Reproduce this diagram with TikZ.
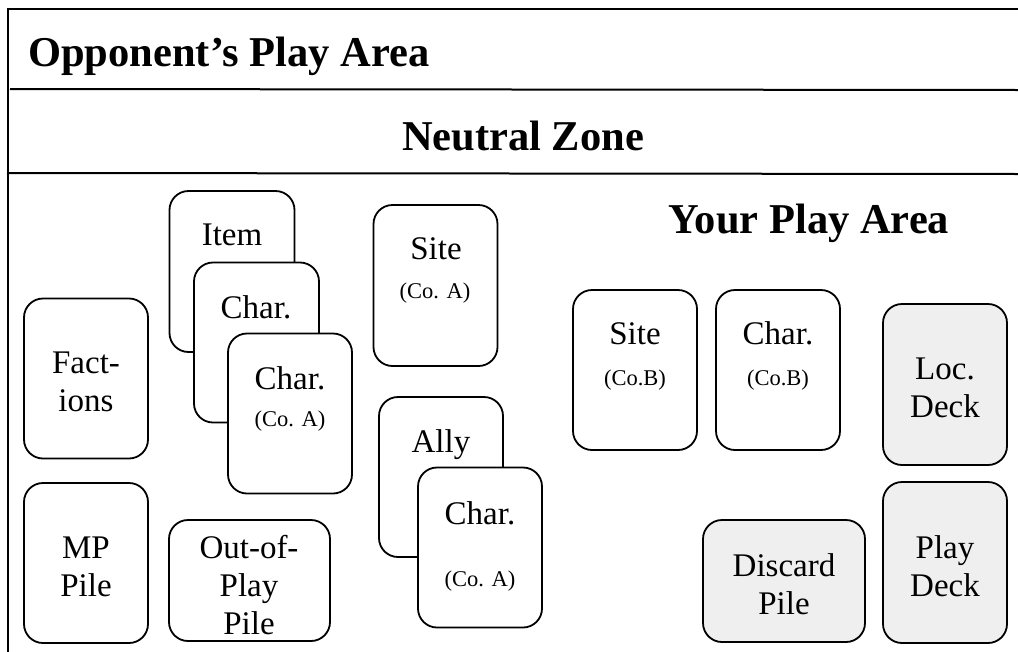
\documentclass[tikz,border=0pt]{standalone}
\usepackage{fontspec}
\setmainfont{Liberation Serif}
\definecolor{deckgray}{HTML}{EFEFEF}
\begin{document}
\begin{tikzpicture}[x=1pt,y=-1pt,
  card/.style={draw=black,line width=1.8pt,rounded corners=19pt,fill=white,inner sep=0pt,minimum width=124pt,minimum height=160pt},
  deck/.style={card,fill=deckgray},
  txt/.style={inner sep=0pt,anchor=base,align=center,font=\fontsize{33}{38}\selectfont},
  sml/.style={inner sep=0pt,anchor=base,align=center,font=\fontsize{22.5}{27}\selectfont},
  ttl/.style={inner sep=0pt,anchor=base,font=\fontsize{42.5}{48}\selectfont\bfseries},
  frame/.style={line width=2pt,line cap=rect}]
\useasboundingbox (0,0) rectangle (1018,651);
% frame
\coordinate (tl) at (8,9);
\coordinate (tr) at (1018,9);
\coordinate (bl) at (8,651);
\coordinate (m1l) at (11,89);
\coordinate (m1r) at (1018,90);
\coordinate (m2l) at (8,173);
\coordinate (m2r) at (1018,174);
\draw[frame,line width=2.6pt] (tl) -- (tr);
\draw[frame] (tl) -- (bl);
\draw[frame] (m1l) -- (m1r);
\draw[frame] (m2l) -- (m2r);
% titles
\node[ttl,anchor=base west] (opp) at (28,66) {Opponent’s Play Area};
\node[ttl] (neu) at (523,150) {Neutral Zone};
\node[ttl] (your) at (809,233) {Your Play Area};
% cards
\node[card,minimum width=125pt,minimum height=161pt] (item) at (232,271.5) {};
\node[card,minimum width=125pt,minimum height=160pt] (charA1) at (256.5,342.5) {};
\node[card] (charA2) at (290,413.5) {};
\node[card,minimum height=161pt] (siteA) at (435.5,285.5) {};
\node[card] (fac) at (86,378.5) {};
\node[card] (mp) at (86,563) {};
\node[card,minimum width=161pt,minimum height=121pt] (oop) at (249.5,580.5) {};
\node[card] (ally) at (441,477) {};
\node[card] (charA3) at (480,547.5) {};
\node[card] (siteB) at (635,370) {};
\node[card] (charB) at (778,370) {};
\node[deck,minimum height=161pt] (loc) at (945,384.5) {};
\node[deck,minimum height=161pt] (play) at (945,562.5) {};
\node[deck,minimum width=162pt,minimum height=122pt] (disc) at (784,581) {};
% card texts (multi-line nodes: base = last line)
\node[txt] (tItem) at (232,245) {Item};
\node[txt] (tCharA1) at (256,318) {Char.};
\node[txt] (tCharA2) at (290,389) {Char.};
\node[sml] (sCharA2) at (290,426) {(Co. A)};
\node[txt] (tSiteA) at (436,259) {Site};
\node[sml] (sSiteA) at (435,298) {(Co. A)};
\node[txt] (tFac) at (86,411) {Fact-\\ions};
\node[txt] (tMP) at (86,596) {MP\\Pile};
\node[txt] (tOop) at (249,634) {Out-of-\\Play\\Pile};
\node[txt] (tAlly) at (441,452) {Ally};
\node[txt] (tCharA3) at (480,524) {Char.};
\node[sml] (sCharA3) at (480,586) {(Co. A)};
\node[txt] (tSiteB) at (635,344) {Site};
\node[sml] (sSiteB) at (635,385) {(Co.B)};
\node[txt] (tCharB) at (778,344) {Char.};
\node[sml] (sCharB) at (778,385) {(Co.B)};
\node[txt] (tLoc) at (945,417) {Loc.\\Deck};
\node[txt] (tPlay) at (945,596) {Play\\Deck};
\node[txt] (tDisc) at (784,614) {Discard\\Pile};
\end{tikzpicture}
\end{document}
